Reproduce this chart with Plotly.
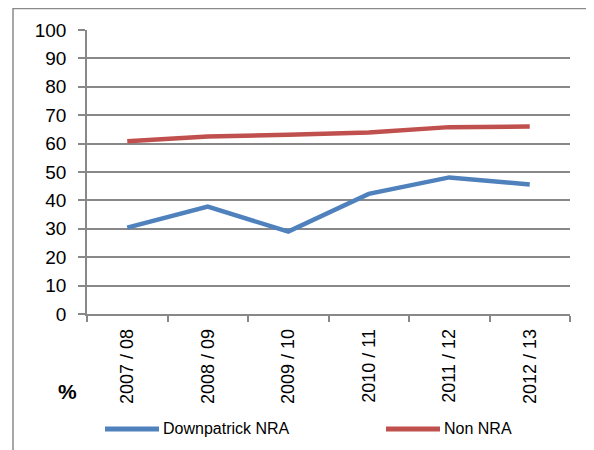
import plotly.graph_objects as go

categories = ["2007 / 08", "2008 / 09", "2009 / 10", "2010 / 11", "2011 / 12", "2012 / 13"]
downpatrick_nra = [30.4, 37.8, 29.0, 42.3, 48.1, 45.6]
non_nra = [60.8, 62.5, 63.1, 63.9, 65.8, 66.0]
series_names = ["Downpatrick NRA", "Non NRA"]
series_colors = ["#4F81BD", "#C0504D"]
y_ticks = [0, 10, 20, 30, 40, 50, 60, 70, 80, 90, 100]

FONT = "Liberation Sans"
GRID = "#888888"

fig = go.Figure()
for name, vals, col in zip(series_names, [downpatrick_nra, non_nra], series_colors):
    fig.add_trace(go.Scatter(x=categories, y=vals, mode="lines", name=name,
                             line=dict(color=col, width=4.5), showlegend=False))

# page offset from the default 8px body margin
OFF = 8
W, H = 594 - OFF, 450 - OFF
L, R, T, B = 87 - OFF, 24, 25 - OFF, 136
pw, ph = W - L - R, H - T - B

# helpers converting page pixel positions to paper coords
def px(x):
    return (x - OFF - L) / pw

def py(y):
    return (H - B - (y - OFF)) / ph

shapes = [
    dict(type="rect", xref="paper", yref="paper", x0=px(13), x1=px(620), y0=py(480), y1=py(3),
         line=dict(color="#8A8A8A", width=1.5), fillcolor="rgba(0,0,0,0)", layer="below"),
]
annotations = [
    dict(text="<b>%</b>", xref="paper", yref="paper", x=px(67.5), y=py(393), showarrow=False,
         font=dict(family=FONT, size=21, color="#000000"), xanchor="center", yanchor="middle"),
]
legend_pos = [(105, 159), (386, 440)]
for (x0, x1), name, col in zip(legend_pos, series_names, series_colors):
    shapes.append(dict(type="line", xref="paper", yref="paper", x0=px(x0), x1=px(x1),
                       y0=py(431), y1=py(431), line=dict(color=col, width=5)))
    annotations.append(dict(text=name, xref="paper", yref="paper", x=px(x1 + 2), y=py(431),
                            showarrow=False, xanchor="left", yanchor="middle",
                            font=dict(family=FONT, size=16, color="#000000")))

fig.update_layout(
    width=W, height=H,
    margin=dict(l=L, r=R, t=T, b=B, pad=0),
    paper_bgcolor="white", plot_bgcolor="white",
    font=dict(family=FONT, color="#000000"),
    shapes=shapes, annotations=annotations,
    showlegend=False,
)
fig.update_xaxes(
    type="category", tickson="boundaries", ticks="outside", ticklen=6, tickcolor=GRID,
    tickwidth=1.5, showline=True, linecolor=GRID, linewidth=1.5, showgrid=False,
    tickangle=-90, tickfont=dict(family=FONT, size=18, color="#000000"),
    ticklabelstandoff=6,
    range=[-0.5, len(categories) - 0.5],
)
fig.update_yaxes(
    range=[0, 100], tickvals=y_ticks, ticks="outside", ticklen=7, tickcolor=GRID, tickwidth=1.5,
    showline=True, linecolor=GRID, linewidth=1.5, showgrid=True, gridcolor=GRID, gridwidth=1.5,
    zeroline=False, tickfont=dict(family=FONT, size=19, color="#000000"),
    ticklabelstandoff=8,
)

fig.write_html("out.html")
